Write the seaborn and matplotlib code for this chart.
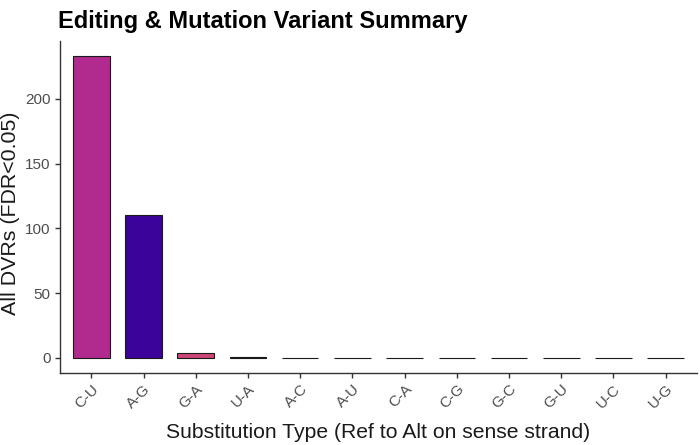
import numpy as np
import pandas as pd
import seaborn as sns
import matplotlib.pyplot as plt

# Data
substitutions = ['C-U', 'A-G', 'G-A', 'U-A', 'A-C', 'A-U',
                 'C-A', 'C-G', 'G-C', 'G-U', 'U-C', 'U-G']
dvr_counts = [233, 110, 4, 1, 0, 0, 0, 0, 0, 0, 0, 0]
bar_colors = ['#B12A8E', '#3B0399', '#CC4778', '#6A00A8', '#F0F921', '#FDC328',
              '#F89441', '#E56B5D', '#CB4778', '#8F0DA4', '#5402A3', '#0D0887']

df = pd.DataFrame({'Substitution': substitutions, 'DVRs': dvr_counts})

sns.set_style('ticks')
plt.rcParams['font.family'] = ['Liberation Sans', 'DejaVu Sans']

fig = plt.figure(figsize=(7, 4.45), dpi=100)
ax = fig.add_axes([0.0857, 0.162, 0.91, 0.746])

sns.barplot(data=df, x='Substitution', y='DVRs', hue='Substitution',
            palette=dict(zip(substitutions, bar_colors)), order=substitutions,
            width=0.7, saturation=1, edgecolor='#1A1A1A', linewidth=0.8,
            legend=False, ax=ax)

ymax = max(dvr_counts)
ax.set_ylim(-0.05 * ymax, 1.05 * ymax)
ax.set_xlim(-0.6, len(substitutions) - 0.4)
ax.set_yticks([0, 50, 100, 150, 200])

ax.set_xlabel('Substitution Type (Ref to Alt on sense strand)', fontsize=15.2, color='#1A1A1A', labelpad=8)
ax.set_ylabel('All DVRs (FDR<0.05)', fontsize=15.4, color='#1A1A1A')
ax.yaxis.set_label_coords(-0.063, 0.482)
ax.tick_params(axis='both', labelsize=11, labelcolor='#4D4D4D', color='#333333',
               length=3.6, width=1, pad=3)
plt.setp(ax.get_xticklabels(), rotation=45, ha='right', rotation_mode='anchor')

for side in ['left', 'bottom']:
    ax.spines[side].set_color('#333333')
    ax.spines[side].set_linewidth(1)
sns.despine(ax=ax)

fig.text(0.083, 0.937, 'Editing & Mutation Variant Summary', fontsize=17,
         fontweight='bold', color='black', ha='left', va='baseline')

fig.savefig('out.png', dpi=100)
